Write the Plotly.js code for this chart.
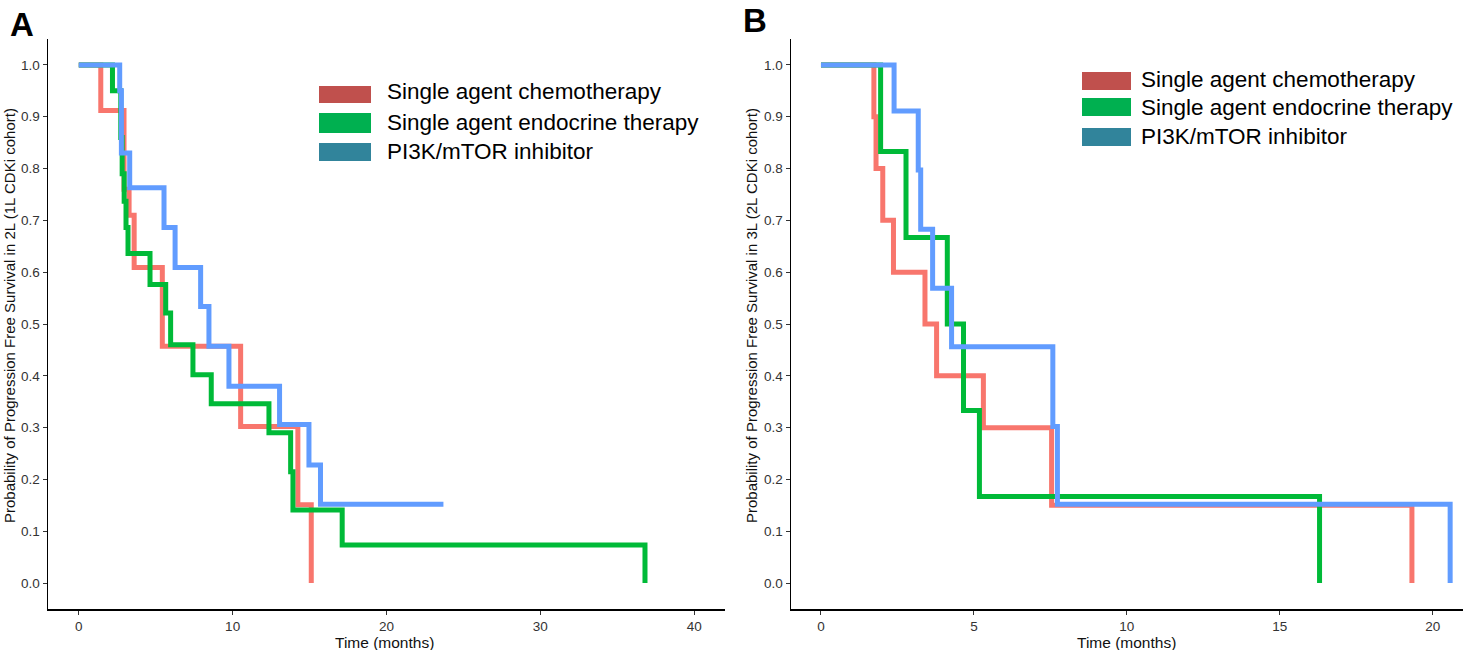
<!DOCTYPE html>
<html>
<head>
<meta charset="utf-8">
<script src="https://cdn.plot.ly/plotly-3.0.1.min.js"></script>
<style>html,body{margin:0;padding:0;background:#fff}#chart{width:1463px;height:650px}</style>
</head>
<body>
<div id="chart"></div>
<script>
// ---- Data ----
const seriesNames = ["Single agent chemotherapy", "Single agent endocrine therapy", "PI3K/mTOR inhibitor"];
const lineColors = ["#F8766D", "#00BA38", "#619CFF"];
const legendColors = ["#C0504D", "#00B050", "#31849B"];

// Panel A (2L, 1L CDKi cohort)
const A_chemo_t = [0, 1.43, 2.94, 3.27, 3.6, 5.43, 10.52, 14.24, 15.11];
const A_chemo_s = [1.0, 0.912, 0.76, 0.71, 0.609, 0.457, 0.302, 0.151, 0.0];
const A_endo_t = [0, 2.19, 2.73, 2.82, 2.95, 3.07, 3.2, 4.63, 5.65, 5.97, 7.42, 8.61, 12.36, 13.77, 13.92, 17.12, 36.8];
const A_endo_s = [1.0, 0.95, 0.86, 0.79, 0.737, 0.686, 0.636, 0.576, 0.521, 0.46, 0.402, 0.346, 0.29, 0.215, 0.141, 0.0735, 0.0];
const A_pi3k_t = [0, 2.66, 2.77, 3.31, 5.54, 6.26, 7.92, 8.46, 9.76, 13.05, 14.96, 15.71, 23.7];
const A_pi3k_s = [1.0, 0.95, 0.83, 0.763, 0.686, 0.609, 0.534, 0.457, 0.38, 0.306, 0.228, 0.152, 0.152];

// Panel B (3L, 2L CDKi cohort)
const B_chemo_t = [0, 1.73, 1.8, 2.02, 2.37, 3.40, 3.78, 5.31, 7.54, 19.32];
const B_chemo_s = [1.0, 0.9, 0.8, 0.7, 0.6, 0.5, 0.4, 0.3, 0.15, 0.0];
const B_endo_t = [0, 1.95, 2.78, 4.13, 4.66, 5.18, 16.3];
const B_endo_s = [1.0, 0.833, 0.667, 0.5, 0.333, 0.167, 0.0];
const B_pi3k_t = [0, 2.39, 3.18, 3.26, 3.65, 4.27, 7.58, 7.73, 20.57];
const B_pi3k_s = [1.0, 0.911, 0.797, 0.683, 0.569, 0.456, 0.302, 0.152, 0.0];

const yTicks = [0, 0.1, 0.2, 0.3, 0.4, 0.5, 0.6, 0.7, 0.8, 0.9, 1.0];
const A_xTicks = [0, 10, 20, 30, 40];
const B_xTicks = [0, 5, 10, 15, 20];
const A_yTitle = "Probability of Progression Free Survival in 2L (1L CDKi cohort)";
const B_yTitle = "Probability of Progression Free Survival in 3L (2L CDKi cohort)";
const xTitle = "Time (months)";

// ---- Build ----
const W = 1463, H = 650;
const px = x => x / W;
const py = y => 1 - y / H;
const FONT = "Liberation Sans, Arial, Helvetica, sans-serif";

function km(t, s, i, xa, ya) {
  return {
    type: "scatter", mode: "lines", x: t, y: s, xaxis: xa, yaxis: ya,
    line: {shape: "hv", color: lineColors[i], width: 5},
    showlegend: false, hoverinfo: "skip"
  };
}

const traces = [
  km(A_chemo_t, A_chemo_s, 0, "x", "y"),
  km(A_endo_t, A_endo_s, 1, "x", "y"),
  km(A_pi3k_t, A_pi3k_s, 2, "x", "y"),
  km(B_chemo_t, B_chemo_s, 0, "x2", "y2"),
  km(B_endo_t, B_endo_s, 1, "x2", "y2"),
  km(B_pi3k_t, B_pi3k_s, 2, "x2", "y2")
];

const axBase = {
  showgrid: false, zeroline: false, showline: true, linecolor: "#000", linewidth: 1.5,
  ticks: "outside", ticklen: 4, tickwidth: 1, tickcolor: "#333",
  tickfont: {family: FONT, size: 13.5, color: "#333"}, mirror: false, fixedrange: true
};
const yDom = [py(609), py(39)];

const layout = {
  width: W, height: H, margin: {l: 0, r: 0, t: 0, b: 0},
  paper_bgcolor: "#fff", plot_bgcolor: "#fff", showlegend: false,
  xaxis: Object.assign({}, axBase, {domain: [px(48), px(725)], range: [-2, 42], tickvals: A_xTicks, anchor: "y"}),
  yaxis: Object.assign({}, axBase, {domain: yDom, range: [-0.05, 1.05], tickvals: yTicks, tickformat: ".1f", anchor: "x"}),
  xaxis2: Object.assign({}, axBase, {domain: [px(791), 1], range: [-0.98, 20.99], tickvals: B_xTicks, anchor: "y2"}),
  yaxis2: Object.assign({}, axBase, {domain: yDom, range: [-0.05, 1.05], tickvals: yTicks, tickformat: ".1f", anchor: "x2"}),
  shapes: [],
  annotations: []
};

// Axis titles
layout.annotations.push(
  {xref: "paper", yref: "paper", x: px(384), y: py(642), text: xTitle, showarrow: false,
   font: {family: FONT, size: 15.5, color: "#111"}, xanchor: "center", yanchor: "middle"},
  {xref: "paper", yref: "paper", x: px(1126), y: py(642), text: xTitle, showarrow: false,
   font: {family: FONT, size: 15.5, color: "#111"}, xanchor: "center", yanchor: "middle"},
  {xref: "paper", yref: "paper", x: px(9), y: py(316), text: A_yTitle, textangle: -90, showarrow: false,
   font: {family: FONT, size: 15, color: "#111"}, xanchor: "center", yanchor: "middle"},
  {xref: "paper", yref: "paper", x: px(751), y: py(316), text: B_yTitle, textangle: -90, showarrow: false,
   font: {family: FONT, size: 15, color: "#111"}, xanchor: "center", yanchor: "middle"},
  {xref: "paper", yref: "paper", x: px(22), y: py(25), text: "<b>A</b>", showarrow: false,
   font: {family: FONT, size: 33, color: "#000"}, xanchor: "center", yanchor: "middle"},
  {xref: "paper", yref: "paper", x: px(755), y: py(21), text: "<b>B</b>", showarrow: false,
   font: {family: FONT, size: 33, color: "#000"}, xanchor: "center", yanchor: "middle"}
);

// Legends (swatch boxes + text), one per panel
const legA = {x0: 319, x1: 371, rows: [[86, 103], [113, 133], [143, 161]], tx: 385, ty: [92, 122, 152]};
const legB = {x0: 1082, x1: 1131, rows: [[72, 90], [98, 116], [128, 146]], tx: 1139, ty: [79, 107, 136]};
[legA, legB].forEach(L => {
  seriesNames.forEach((name, i) => {
    layout.shapes.push({type: "rect", xref: "paper", yref: "paper",
      x0: px(L.x0), x1: px(L.x1), y0: py(L.rows[i][1]), y1: py(L.rows[i][0]),
      fillcolor: legendColors[i], line: {width: 0}});
    layout.annotations.push({xref: "paper", yref: "paper", x: px(L.tx), y: py(L.ty[i]),
      text: name, showarrow: false, xanchor: "left", yanchor: "middle",
      font: {family: FONT, size: 22.5, color: "#000"}});
  });
});

Plotly.newPlot("chart", traces, layout, {displayModeBar: false, staticPlot: true});
</script>
</body>
</html>
